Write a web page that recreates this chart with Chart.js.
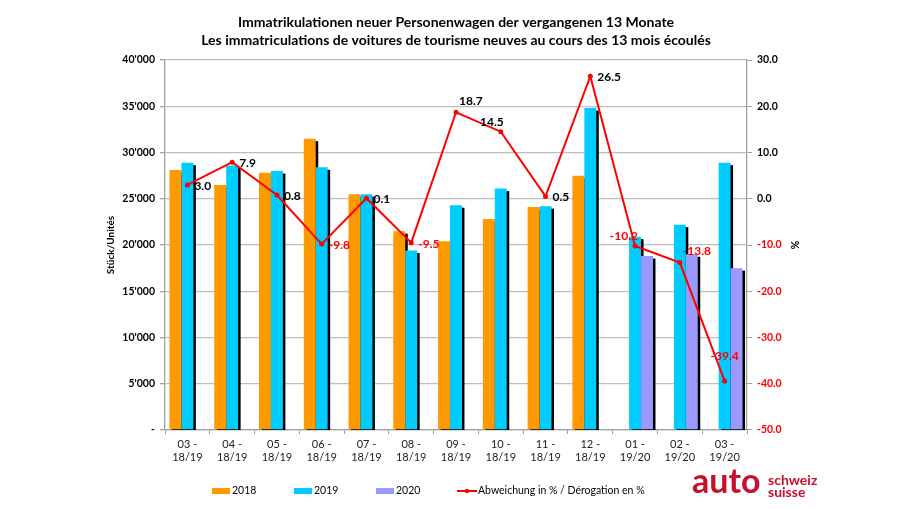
<!DOCTYPE html>
<html>
<head>
<meta charset="utf-8">
<script src="https://cdn.jsdelivr.net/npm/chart.js@4.4.0/dist/chart.umd.min.js"></script>
<style>
html,body{margin:0;padding:0;background:#fff;}
#wrap{position:relative;width:920px;height:510px;}
</style>
</head>
<body>
<div id="wrap"><canvas id="c" width="920" height="510"></canvas></div>
<script>
// ---- data ----
const categories = [['03 -','18/19'],['04 -','18/19'],['05 -','18/19'],['06 -','18/19'],['07 -','18/19'],['08 -','18/19'],['09 -','18/19'],['10 -','18/19'],['11 -','18/19'],['12 -','18/19'],['01 -','19/20'],['02 -','19/20'],['03 -','19/20']];
const units2018 = [28100,26500,27800,31500,25500,21500,20400,22800,24100,27500,null,null,null];
const units2019 = [28900,28600,28000,28400,25500,19400,24300,26100,24200,34800,20900,22200,28900];
const units2020 = [null,null,null,null,null,null,null,null,null,null,18800,19000,17500];
const deviationPct = [3.0,7.9,0.8,-9.8,0.1,-9.5,18.7,14.5,0.5,26.5,-10.2,-13.8,-39.4];
const seriesNames = ['2018','2019','2020','Abweichung in % / Dérogation en %'];
const titleLines = ['Immatrikulationen neuer Personenwagen der vergangenen 13 Monate','Les immatriculations de voitures de tourisme neuves au cours des 13 mois écoulés'];
const leftAxisTitle = 'Stück/Unités';
const rightAxisTitle = '%';

const FONT = 'Lato, "Open Sans", sans-serif';

const shadowPlugin = {
  id: 'barShadow',
  beforeDatasetsDraw(chart) {
    const {ctx, chartArea: a} = chart;
    ctx.save();
    ctx.beginPath(); ctx.rect(a.left, a.top, a.right - a.left, a.bottom - a.top); ctx.clip();
    ctx.fillStyle = '#000';
    chart.data.datasets.forEach((ds, i) => {
      if (ds.type === 'line') return;
      const meta = chart.getDatasetMeta(i);
      meta.data.forEach((bar, j) => {
        if (ds.data[j] == null) return;
        const p = bar.getProps(['x','y','base','width'], true);
        ctx.fillRect(p.x - p.width/2 + 2.5, p.y + 2.5, p.width, p.base - p.y);
      });
    });
    ctx.restore();
  }
};

const labelPlugin = {
  id: 'pctLabels',
  afterDatasetsDraw(chart, args, opts) {
    const ctx = chart.ctx;
    const idx = chart.data.datasets.findIndex(d => d.type === 'line');
    const meta = chart.getDatasetMeta(idx);
    const data = chart.data.datasets[idx].data;
    ctx.save();
    ctx.font = 'bold 12px ' + FONT;
    ctx.textBaseline = 'middle';
    meta.data.forEach((pt, i) => {
      const v = data[i];
      let x = pt.x, y = pt.y, align = 'left';
      switch (opts.placement[i]) {
        case 'right': x += 7; y += 1; break;
        case 'aboveRight': x += 3; y -= 11; break;
        case 'aboveLeft': x += 3; y -= 10; align = 'right'; break;
        case 'above': y -= 25; align = 'center'; break;
      }
      ctx.fillStyle = v < 0 ? '#FF0000' : '#000';
      ctx.textAlign = align;
      ctx.fillText(v.toFixed(1), x, y);
    });
    ctx.restore();
  }
};

const legendPlugin = {
  id: 'bottomLegend',
  afterDraw(chart, args, opts) {
    const ctx = chart.ctx;
    ctx.save();
    ctx.font = '10.5px ' + FONT;
    ctx.textBaseline = 'middle';
    ctx.textAlign = 'left';
    const y = opts.y;
    chart.data.datasets.forEach((ds, i) => {
      const x = opts.xs[i];
      if (ds.type === 'line') {
        ctx.strokeStyle = ds.borderColor; ctx.lineWidth = 2;
        ctx.beginPath(); ctx.moveTo(x, y); ctx.lineTo(x + 20, y); ctx.stroke();
        ctx.fillStyle = ds.borderColor;
        ctx.beginPath(); ctx.arc(x + 10, y, 2.2, 0, Math.PI*2); ctx.fill();
        ctx.fillStyle = '#000';
        ctx.fillText(ds.label, x + 21, y);
      } else {
        ctx.fillStyle = ds.backgroundColor;
        ctx.fillRect(x, y - 3, 18, 6);
        ctx.fillStyle = '#000';
        ctx.fillText(ds.label, x + 20, y);
      }
    });
    // logo
    ctx.fillStyle = '#C8102E';
    ctx.textBaseline = 'alphabetic';
    ctx.font = 'bold 34px ' + FONT;
    ctx.fillText('auto', 692, 493);
    ctx.font = 'bold 14px ' + FONT;
    ctx.fillText('schweiz', 768, 485);
    ctx.fillText('suisse', 768, 497);
    ctx.restore();
  }
};

new Chart(document.getElementById('c'), {
  data: {
    labels: categories,
    datasets: [
      { type: 'bar', label: seriesNames[0], data: units2018, backgroundColor: '#FF9900', yAxisID: 'y', barPercentage: 1, categoryPercentage: 0.8 },
      { type: 'bar', label: seriesNames[1], data: units2019, backgroundColor: '#00CCFF', yAxisID: 'y', barPercentage: 1, categoryPercentage: 0.8 },
      { type: 'bar', label: seriesNames[2], data: units2020, backgroundColor: '#9999FF', yAxisID: 'y', barPercentage: 1, categoryPercentage: 0.8 },
      { type: 'line', label: seriesNames[3], data: deviationPct, borderColor: '#FF0000', backgroundColor: '#FF0000', borderWidth: 2, pointRadius: 2.5, pointBorderWidth: 0, pointBackgroundColor: '#FF0000', tension: 0, yAxisID: 'y1', order: -1 }
    ]
  },
  options: {
    responsive: false,
    animation: false,
    devicePixelRatio: 1,
    layout: { padding: { left: 100, right: 108, top: 13, bottom: 46 } },
    plugins: {
      legend: { display: false },
      tooltip: { enabled: false },
      title: { display: true, text: titleLines, color: '#000', font: { family: FONT, size: 14, weight: 'bold', lineHeight: 1.286 }, padding: { top: 0, bottom: 11 } },
      pctLabels: { placement: ['right','right','right','right','right','right','aboveRight','aboveLeft','right','right','aboveLeft','aboveRight','above'] },
      bottomLegend: { y: 491, xs: [212, 294, 376, 457] }
    },
    scales: {
      x: {
        offset: true,
        grid: { display: true, drawOnChartArea: false, drawTicks: true, tickLength: 4, color: '#A0A0A0', offset: true },
        border: { color: '#A0A0A0', width: 1.3 },
        ticks: { color: '#222', font: { family: FONT, size: 11, lineHeight: 1.2 }, padding: 4, maxRotation: 0, autoSkip: false },
        afterFit(s) { s.height = 34; }
      },
      y: {
        position: 'left',
        min: 0, max: 40000,
        ticks: { stepSize: 5000, color: '#000', font: { family: FONT, size: 10.5, weight: 'bold' }, padding: 5,
          callback: v => v === 0 ? '-' : String(v).replace(/\B(?=(\d{3})+(?!\d))/g, "'") },
        grid: { color: '#BEBEBE', lineWidth: 1.3, tickLength: 5, tickColor: '#A0A0A0' },
        border: { color: '#A0A0A0', width: 1.3 },
        title: { display: true, text: leftAxisTitle, color: '#000', font: { family: FONT, size: 10, weight: 'bold' }, padding: { top: 4.5, bottom: 0 } },
        afterFit(s) { s.width = 65; }
      },
      y1: {
        position: 'right',
        min: -50, max: 30,
        ticks: { stepSize: 10, font: { family: FONT, size: 10.5, weight: 'bold' }, padding: 5,
          color: ctx => ctx.tick && ctx.tick.value < 0 ? '#FF0000' : '#000',
          callback: v => v.toFixed(1) },
        grid: { drawOnChartArea: false, tickLength: 5, color: '#A0A0A0' },
        border: { color: '#A0A0A0', width: 1.3 },
        title: { display: true, text: rightAxisTitle, color: '#000', font: { family: FONT, size: 10.5, weight: 'bold' }, padding: { top: 11.7, bottom: 0 } },
        afterFit(s) { s.width = 65; }
      }
    }
  },
  plugins: [shadowPlugin, labelPlugin, legendPlugin]
});
</script>
</body>
</html>
